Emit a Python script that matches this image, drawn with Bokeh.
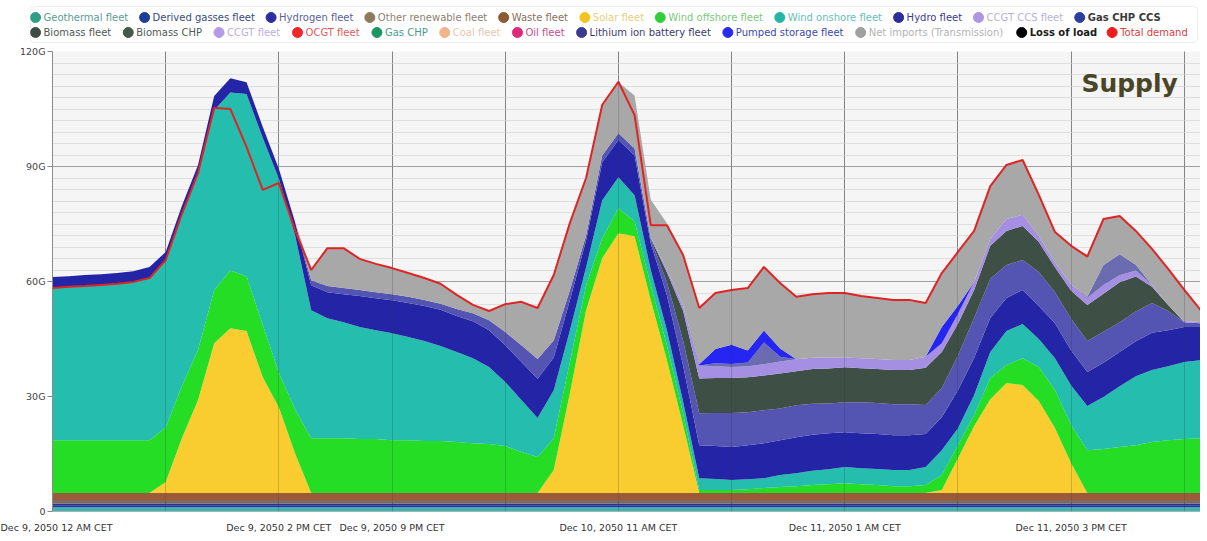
from bokeh.plotting import figure
from bokeh.models import ColumnDataSource, Range1d, FixedTicker, Grid, Label, BoxAnnotation
from bokeh.layouts import column
from bokeh.embed import file_html
from bokeh.resources import INLINE
from bokeh.core.properties import value

# ---------------- data (GW, hourly from Dec 9, 2050 12 AM CET) ----------------
hours = list(range(72))

geothermal = [1.1] * 72
derived_gasses = [0.5] * 72
hydrogen = [0.5] * 72
other_renewable = [0.9] * 72
waste = [1.8] * 72

solar = [0, 0, 0, 0, 0, 0, 0,
         2.9, 14.3, 24.3, 39.1, 43.0, 42.3, 30.3, 22.4, 10.4,
         0, 0, 0, 0, 0, 0, 0, 0, 0, 0, 0, 0, 0, 0, 0,
         6.0, 26.1, 47.7, 61.3, 67.8, 67.0, 50.4, 34.7, 17.7,
         0, 0, 0, 0, 0, 0, 0, 0, 0, 0, 0, 0, 0, 0, 0,
         0.8, 9.1, 17.5, 24.5, 28.7, 28.2, 24.0, 17.0, 7.8,
         0, 0, 0, 0, 0, 0, 0, 0]

wind_offshore = [13.8, 13.8, 13.8, 13.8, 13.8, 13.8, 13.8,
                 14.3, 13.6, 13.0, 13.8, 15.1, 14.3, 13.6, 9.0, 11.5,
                 14.3, 14.3, 14.3, 14.1, 14.1, 13.8, 13.8, 13.6, 13.6, 13.3, 13.0, 12.8, 12.3, 10.7, 9.4,
                 8.3, 8.1, 6.5, 5.2, 6.5, 3.9, 3.9, 3.9, 3.1,
                 0.8, 0.8, 0.8, 1.0, 1.3, 1.6, 1.8, 2.1, 2.3, 2.6, 2.3, 2.1, 1.8, 1.8,
                 2.1, 3.9, 3.4, 2.9, 5.5, 4.7, 7.0, 8.9, 9.9, 9.9,
                 11.2, 11.5, 12.0, 12.5, 13.3, 13.8, 14.1, 14.3]

wind_onshore = [39.7, 39.9, 40.2, 40.4, 40.7, 41.2, 42.3,
                43.6, 44.9, 46.2, 47.0, 46.4, 47.5, 48.8, 50.6, 45.4,
                33.4, 31.3, 30.3, 29.2, 28.4, 27.9, 26.9, 26.1, 24.8, 23.5, 22.2, 20.1, 16.7, 13.6, 10.2,
                12.5, 8.3, 4.7, 9.9, 8.1, 6.8, 3.9, 3.9, 3.1,
                3.1, 2.9, 2.6, 2.6, 2.6, 3.1, 3.4, 3.7, 3.9, 4.2, 4.2, 4.2, 4.2, 4.2,
                4.7, 6.5, 4.4, 5.2, 6.8, 8.9, 8.9, 7.3, 8.3, 10.4,
                11.5, 13.6, 15.9, 18.0, 18.8, 19.3, 20.1, 20.4]

hydro = [2.9, 2.9, 2.9, 2.9, 2.9, 2.9, 2.9,
         2.1, 2.1, 2.1, 3.7, 3.7, 3.1, 2.9, 2.6, 3.4,
         6.5, 6.8, 7.3, 8.1, 8.3, 8.6, 8.9, 9.1, 9.4, 9.4, 9.6, 9.6, 9.6, 9.9, 10.2,
         8.6, 7.8, 7.0, 9.9, 9.7, 10.4, 7.0, 9.1, 9.4,
         8.6, 8.6, 8.6, 8.9, 9.1, 9.1, 9.4, 9.4, 9.4, 9.1, 9.1, 9.1, 9.1, 9.1,
         8.6, 8.6, 9.9, 9.7, 8.9, 8.6, 8.9, 8.6, 9.1, 9.1,
         8.9, 8.9, 8.9, 9.1, 9.7, 9.4, 9.1, 8.6]

gas_chp_ccs = [0, 0, 0, 0, 0, 0, 0, 0, 0, 0, 0, 0, 0, 0, 0, 0,
               1.3, 1.6, 1.6, 1.6, 1.6, 1.6, 1.6, 1.6, 1.6, 1.8, 2.1, 2.6, 3.4, 4.4, 5.2,
               4.4, 2.6, 1.3, 1.8, 1.8, 1.8, 1.0, 3.4, 6.5,
               8.3, 8.6, 8.9, 8.6, 8.6, 8.3, 8.3, 8.1, 7.8, 7.8, 8.1, 8.1, 8.1, 8.1,
               7.6, 7.6, 9.1, 10.4, 10.2, 8.6, 7.8, 8.9, 8.1, 8.3,
               8.1, 8.1, 7.8, 7.8, 7.8, 5.0, 1.3, 1.0]

biomass = [0] * 37 + [0.3, 2.6, 7.8,
                      9.1, 9.1, 9.1, 9.1, 9.1, 9.1, 8.9, 9.1, 9.1, 9.1, 8.9, 8.9, 8.9, 8.9,
                      9.7, 9.4, 8.3, 7.3, 8.6, 8.9, 8.9, 7.8, 6.5, 7.3,
                      9.4, 9.9, 10.4, 9.1, 4.2, 1.6, 0, 0]

ccgt = [0] * 37 + [0.3, 0.8, 1.3,
                   3.4, 3.1, 2.9, 2.9, 2.9, 3.1, 3.1, 2.9, 2.9, 2.6, 2.6, 2.6, 2.6, 2.6,
                   2.9, 2.3, 2.6, 2.1, 1.8, 3.1, 2.9, 1.6, 1.3, 1.6,
                   1.8, 2.3, 1.8, 1.6, 0.5, 0, 0.3, 0.3]

lithium = [0] * 41 + [0.8, 0.8, 1.0, 5.7, 1.3] + [0] * 18 + [0.3, 5.2, 5.5, 1.5] + [0] * 4

pumped = [0] * 40 + [0.3, 3.7, 5.0, 3.1, 3.1, 2.1] + [0] * 8 + [0, 4.2, 2.1] + [0] * 15

net_imports = [0] * 16 + [2.6, 9.9, 10.4, 8.1, 7.3, 6.8, 6.3, 5.7, 5.2, 3.7, 2.1, 2.3, 7.3, 11.2, 13.3,
                          17.0, 17.5, 15.0, 13.0, 13.3, 13.8, 9.7, 12.0, 13.0,
                          14.6, 14.6, 14.3, 16.2, 16.4, 17.0, 16.2, 16.7, 16.7, 16.7, 16.2, 15.9, 15.7, 15.4,
                          14.1, 14.1, 13.8, 13.3, 13.8, 14.1, 14.3, 10.7, 7.8, 9.9,
                          11.0, 12.0, 9.9, 8.6, 9.4, 9.4, 8.1, 3.1]

total_demand = [58.3, 58.6, 58.8, 59.1, 59.4, 59.9, 60.9,
                65.6, 77.6, 88.3, 105.3, 105.0, 95.1, 83.9, 85.7, 73.4,
                63.0, 68.7, 68.7, 65.9, 64.6, 63.5, 62.2, 60.9, 59.4, 56.5, 53.9, 52.3, 54.1, 54.7, 53.1,
                61.7, 75.3, 87.0, 106.1, 112.1, 103.4, 74.7, 74.7, 66.9,
                53.1, 57.0, 57.8, 58.3, 63.8, 59.6, 56.0, 56.7, 57.0, 57.0, 56.2, 55.7, 55.2, 55.2,
                54.4, 62.2, 67.7, 73.2, 84.9, 90.4, 91.7, 82.6, 72.9, 69.3,
                66.5, 76.3, 77.1, 73.2, 68.5, 63.3, 57.8, 52.6]

x_ticks = [0, 7, 14, 21, 28, 35, 42, 49, 56, 63, 70]
x_tick_labels = ["Dec 9, 2050 12 AM CET", "", "Dec 9, 2050 2 PM CET", "Dec 9, 2050 9 PM CET", "",
                 "Dec 10, 2050 11 AM CET", "", "Dec 11, 2050 1 AM CET", "", "Dec 11, 2050 3 PM CET", ""]
y_ticks = [0, 30, 60, 90, 120]
y_tick_labels = ["0", "30G", "60G", "90G", "120G"]

legend_row1 = ["Geothermal fleet", "Derived gasses fleet", "Hydrogen fleet", "Other renewable fleet",
               "Waste fleet", "Solar fleet", "Wind offshore fleet", "Wind onshore fleet", "Hydro fleet",
               "CCGT CCS fleet", "Gas CHP CCS"]
legend_row2 = ["Biomass fleet", "Biomass CHP", "CCGT fleet", "OCGT fleet", "Gas CHP", "Coal fleet",
               "Oil fleet", "Lithium ion battery fleet", "Pumped storage fleet",
               "Net imports (Transmission)", "Loss of load", "Total demand"]

# ---------------- styles ----------------
stack_names = ["geothermal", "derived_gasses", "hydrogen", "other_renewable", "waste", "solar",
               "wind_offshore", "wind_onshore", "hydro", "gas_chp_ccs", "biomass", "ccgt",
               "lithium", "pumped", "net_imports"]
stack_colors = ["#40b4ae", "#1f3a93", "#2c2ca0", "#7f6a5a", "#9b5a3c", "#f9cd2f",
                "#25dd25", "#25bdad", "#2424a6", "#5454b2", "#3e4f46", "#a58fe3",
                "#6b6bb0", "#2626f2", "#a8a8a8"]

row1_dot = ["#2e9e84", "#1d3d96", "#2e2ea0", "#8b7a5c", "#8e5a30", "#f2c21e", "#2fcf3a",
            "#25b5a5", "#2d2d9e", "#ad98e0", "#2a3f9e"]
row2_dot = ["#3d4d46", "#46584c", "#b49be8", "#f0262a", "#1a9660", "#f2b48a", "#e0287a",
            "#3b3b8e", "#2a2aee", "#a0a0a0", "#000000", "#ee1c1c"]
row1_txt = ["#5c9c94", "#3b4a78", "#5a5f99", "#8c7f70", "#8a6f60", "#e6cf7a", "#7cc97c",
            "#66c0b5", "#3c3c8a", "#b9b2d8", "#3a3a3a"]
row2_txt = ["#4f5a54", "#4f5a54", "#bdb0e0", "#e05a5a", "#4a9e88", "#e9c7b0", "#c2508a",
            "#3b3b6e", "#3a4aa8", "#b3b3b3", "#1a1a1a", "#d8403f"]
row1_bold = [False] * 10 + [True]
row2_bold = [False] * 10 + [True, False]

FONT = value("DejaVu Sans")
W = 1200
LEG_FS = 10.0

# approximate DejaVu Sans advance widths (em) used to flow the legend items
CW = {" ": .318, "(": .390, ")": .390, ",": .318,
      "A": .684, "B": .686, "C": .698, "D": .770, "E": .632, "F": .575, "G": .775, "H": .752,
      "I": .295, "L": .557, "M": .863, "N": .748, "O": .787, "P": .603, "S": .635, "T": .611,
      "W": .989, "a": .613, "b": .635, "c": .550, "d": .635, "e": .615, "f": .352, "g": .635,
      "h": .634, "i": .278, "l": .278, "m": .974, "n": .634, "o": .612, "p": .635, "r": .411,
      "s": .521, "t": .392, "u": .634, "v": .592, "w": .818, "y": .592}


def text_w(s, bold=False):
    w = sum(CW.get(ch, 0.6) for ch in s) * LEG_FS
    return w * (1.1 if bold else 1.0)


def flow(labels, bolds, start=35, gap=23.0):
    xs, x = [], start
    for lab, b in zip(labels, bolds):
        xs.append(x)
        x += text_w(lab, b) + gap
    return xs


# ---------------- legend strip ----------------
lg = figure(width=W, height=44, x_range=Range1d(0, W), y_range=Range1d(44, 0),
            output_backend="svg", toolbar_location=None,
            min_border_left=0, min_border_right=0, min_border_top=0, min_border_bottom=0)
if "frame_align" in lg.properties():
    lg.frame_align = False
lg.axis.visible = False
lg.grid.visible = False
lg.outline_line_color = None
lg.background_fill_color = "#ffffff"
lg.border_fill_color = "#ffffff"
box = BoxAnnotation(left=30, right=1197, top=6, bottom=42, fill_alpha=0,
                    line_color="#c8c8c8", line_width=1)
if "border_radius" in box.properties():
    box.border_radius = 4
lg.add_layout(box)

for labels, dots, txts, bolds, yrow, gap in [
        (legend_row1, row1_dot, row1_txt, row1_bold, 17, 24.2),
        (legend_row2, row2_dot, row2_txt, row2_bold, 32, 25.0)]:
    pos = flow(labels, bolds, gap=gap)
    src_d = ColumnDataSource(dict(x=pos, y=[yrow] * len(pos), c=dots))
    lg.scatter("x", "y", source=src_d, size=10, marker="circle", color="c", line_color="c")
    for bold in (False, True):
        idx = [i for i, b in enumerate(bolds) if b == bold]
        if not idx:
            continue
        src_t = ColumnDataSource(dict(x=[pos[i] + 8 for i in idx], y=[yrow] * len(idx),
                                      t=[labels[i] for i in idx], c=[txts[i] for i in idx]))
        lg.text("x", "y", text="t", source=src_t, text_color="c", text_font=FONT,
                text_font_size=f"{LEG_FS}px", text_baseline="middle", text_align="left",
                text_font_style="bold" if bold else "normal")

# ---------------- main chart ----------------
data = dict(hours=hours, geothermal=geothermal, derived_gasses=derived_gasses, hydrogen=hydrogen,
            other_renewable=other_renewable, waste=waste, solar=solar, wind_offshore=wind_offshore,
            wind_onshore=wind_onshore, hydro=hydro, gas_chp_ccs=gas_chp_ccs, biomass=biomass,
            ccgt=ccgt, lithium=lithium, pumped=pumped, net_imports=net_imports,
            total_demand=total_demand)
src = ColumnDataSource(data)

p = figure(width=W, height=493, x_range=Range1d(0, 71), y_range=Range1d(0, 120),
           output_backend="svg", toolbar_location=None,
           min_border_left=52, min_border_right=0, min_border_top=7, min_border_bottom=26)
p.background_fill_color = "#f5f5f5"
p.border_fill_color = "#ffffff"
p.outline_line_color = None

p.varea_stack(stackers=stack_names, x="hours", color=stack_colors, source=src)
p.line("hours", "total_demand", source=src, color="#e02424", line_width=2)

p.xaxis.ticker = FixedTicker(ticks=x_ticks)
p.xaxis.major_label_overrides = {t: l for t, l in zip(x_ticks, x_tick_labels)}
p.xaxis.major_tick_out = 0
p.xaxis.major_tick_in = 0
p.xaxis.minor_tick_out = 0
p.xaxis.minor_tick_in = 0
p.xaxis.axis_line_color = "#b0b0b0"
p.xaxis.major_label_standoff = 10
p.xaxis.major_label_text_font = "DejaVu Sans"
p.xaxis.major_label_text_font_size = "9.5px"
p.xaxis.major_label_text_color = "#333333"

p.yaxis.ticker = FixedTicker(ticks=y_ticks, minor_ticks=[v for v in range(0, 121, 3)])
p.yaxis.major_label_overrides = {t: l for t, l in zip(y_ticks, y_tick_labels)}
p.yaxis.major_tick_out = 5
p.yaxis.major_tick_in = 0
p.yaxis.minor_tick_out = 0
p.yaxis.minor_tick_in = 0
p.yaxis.axis_line_color = "#8a8a8a"
p.yaxis.major_tick_line_color = "#8a8a8a"
p.yaxis.major_label_standoff = 2
p.yaxis.major_label_text_font = "DejaVu Sans"
p.yaxis.major_label_text_font_size = "9.5px"
p.yaxis.major_label_text_color = "#444444"

p.xgrid.grid_line_color = "#9a9a9a"
p.ygrid.grid_line_color = "#a0a0a0"
p.ygrid.minor_grid_line_color = "#dedede"

# faint vertical lines visible through the areas
p.add_layout(Grid(dimension=0, ticker=p.xaxis.ticker, grid_line_color="#303030",
                  grid_line_alpha=0.22, level="overlay"))

p.add_layout(Label(x=69.6, y=111.7, text="Supply", text_font="DejaVu Sans",
                   text_font_size="25px", text_font_style="bold", text_color="#4b4528",
                   text_align="right", text_baseline="middle"))

layout = column(lg, p, spacing=0)
open("out.html", "w").write(file_html(layout, INLINE))
